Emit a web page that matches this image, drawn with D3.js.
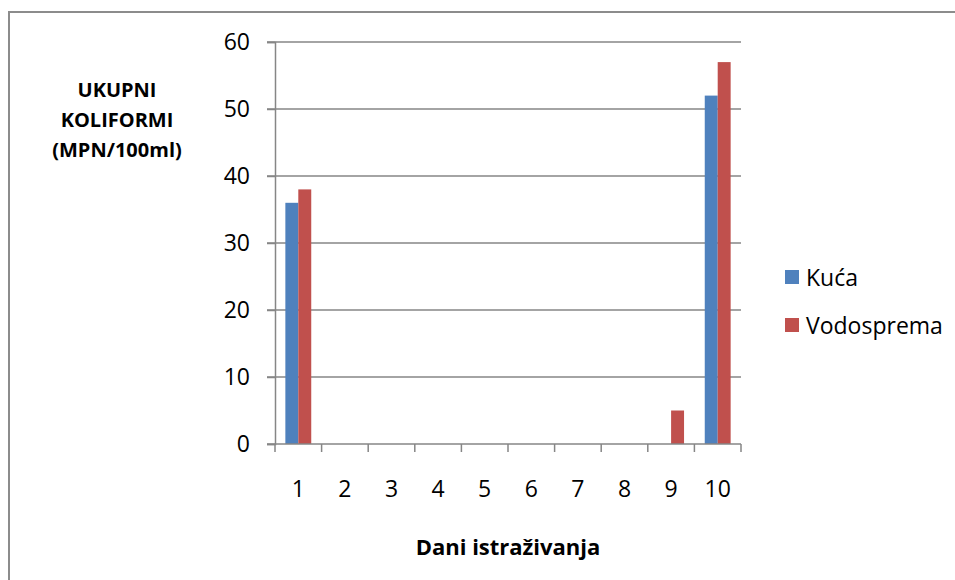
<!DOCTYPE html>
<html>
<head>
<meta charset="utf-8">
<script src="https://cdn.jsdelivr.net/npm/d3@7"></script>
<style>
  html, body { margin: 0; padding: 0; background: #fff; }
  svg { display: block; }
  text { font-family: "Open Sans", "Liberation Sans", sans-serif; fill: #000; }
</style>
</head>
<body>
<svg id="chart" width="955" height="580"></svg>
<script>
const categories = ["1", "2", "3", "4", "5", "6", "7", "8", "9", "10"];
const seriesNames = ["Kuća", "Vodosprema"];
const kuca = [36, 0, 0, 0, 0, 0, 0, 0, 0, 52];
const vodosprema = [38, 0, 0, 0, 0, 0, 0, 0, 5, 57];
const yTicks = [0, 10, 20, 30, 40, 50, 60];
const yTitleLines = ["UKUPNI", "KOLIFORMI", "(MPN/100ml)"];
const xTitle = "Dani istraživanja";
const colors = ["#4F81BD", "#C0504D"];

(function () {
const seriesValues = [kuca, vodosprema];
const svg = d3.select("#chart");

// outer chart border
svg.append("rect")
  .attr("x", 9).attr("y", 12)
  .attr("width", 1100).attr("height", 700)
  .attr("fill", "none").attr("stroke", "#8c8c8c").attr("stroke-width", 2);

const pLeft = 275, pRight = 741, pTop = 42, pBottom = 444;
const y = d3.scaleLinear().domain([0, 60]).range([pBottom, pTop]);
const x0 = d3.scaleBand().domain(categories).range([pLeft, pRight]).paddingInner(0).paddingOuter(0);
const x1 = d3.scaleBand().domain(seriesNames).range([0, x0.bandwidth()]).paddingInner(0).paddingOuter(0.8);

const gridColor = "#868686";

// gridlines
svg.append("g").selectAll("line")
  .data(yTicks.filter(d => d !== 0))
  .join("line")
  .attr("x1", pLeft - 8).attr("x2", pRight)
  .attr("y1", d => y(d)).attr("y2", d => y(d))
  .attr("stroke", gridColor).attr("stroke-width", 1.5);

// bars
const rows = categories.map((c, i) => ({ c, vals: seriesNames.map((s, j) => ({ s, j, v: seriesValues[j][i] })) }));
svg.append("g").selectAll("g")
  .data(rows)
  .join("g")
  .attr("transform", d => `translate(${x0(d.c)},0)`)
  .selectAll("rect")
  .data(d => d.vals.filter(v => v.v > 0))
  .join("rect")
  .attr("x", d => x1(d.s))
  .attr("width", x1.bandwidth())
  .attr("y", d => y(d.v))
  .attr("height", d => y(0) - y(d.v))
  .attr("fill", d => colors[d.j]);

// y axis
const yAxis = d3.axisLeft(y).tickValues(yTicks).tickSize(8).tickPadding(17);
const gy = svg.append("g").attr("transform", `translate(${pLeft},0)`).call(yAxis);
gy.select(".domain").attr("stroke", gridColor).attr("stroke-width", 1.5);
gy.selectAll(".tick line").attr("stroke", gridColor).attr("stroke-width", 1.5);
gy.selectAll(".tick text").style("font-size", "23px").attr("fill", "#000");

// x axis
const xAxis = d3.axisBottom(x0).tickSize(0).tickPadding(37);
const gx = svg.append("g").attr("transform", `translate(0,${pBottom})`).call(xAxis);
gx.select(".domain").attr("stroke", gridColor).attr("stroke-width", 1.5).attr("d", `M${pLeft - 8},0H${pRight}`);
gx.selectAll(".tick text").style("font-size", "23px").attr("fill", "#000");
gx.append("g").selectAll("line")
  .data(categories.map(c => x0(c)).concat([pRight]))
  .join("line")
  .attr("x1", d => d).attr("x2", d => d)
  .attr("y1", 0).attr("y2", 8)
  .attr("stroke", gridColor).attr("stroke-width", 1.5);

// y title
svg.append("text")
  .attr("x", 117).attr("y", 97)
  .attr("text-anchor", "middle")
  .style("font-size", "20px").style("font-weight", "bold")
  .selectAll("tspan")
  .data(yTitleLines)
  .join("tspan")
  .attr("x", 117)
  .attr("dy", (d, i) => i === 0 ? 0 : 30)
  .text(d => d);

// x title
svg.append("text")
  .attr("x", (pLeft + pRight) / 2).attr("y", 555)
  .attr("text-anchor", "middle")
  .style("font-size", "22px").style("font-weight", "bold")
  .text(xTitle);

// legend
const legend = svg.append("g").selectAll("g")
  .data(seriesNames)
  .join("g")
  .attr("transform", (d, i) => `translate(785,${270 + i * 48})`);
legend.append("rect").attr("width", 14).attr("height", 14).attr("fill", (d, i) => colors[i]);
legend.append("text").attr("x", 21).attr("y", 15.5)
  .style("font-size", "23px").text(d => d);
})();
</script>
</body>
</html>
